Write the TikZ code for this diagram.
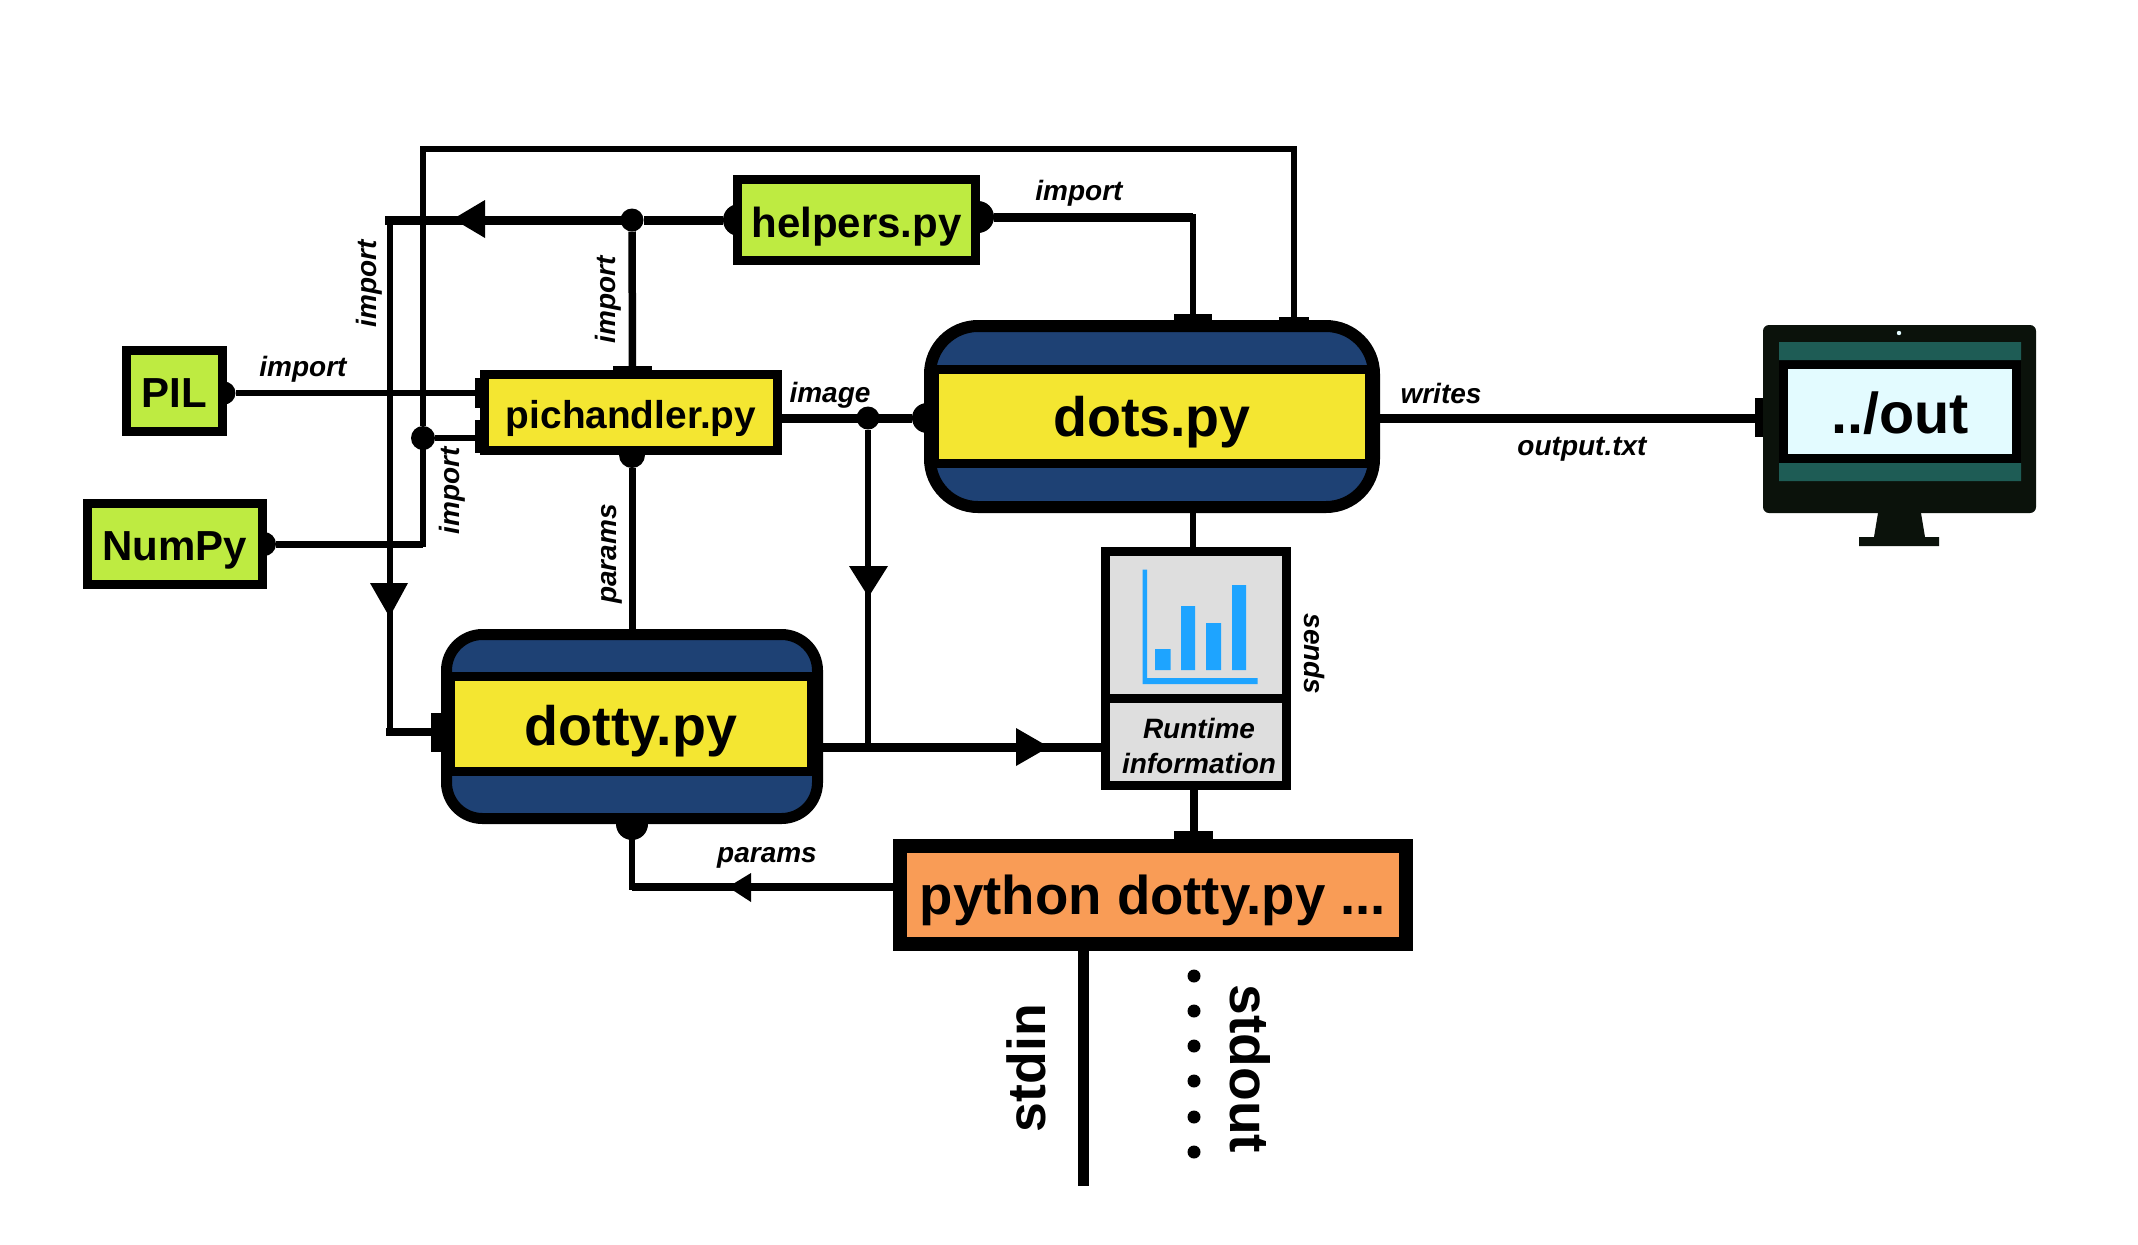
\documentclass[tikz,border=0pt]{standalone}
\usepackage{fontspec}
\setmainfont{Liberation Sans}
\pgfdeclarelayer{wires}
\pgfsetlayers{wires,main}
\definecolor{libgreen}{HTML}{BEEB41}
\definecolor{modyellow}{HTML}{F4E631}
\definecolor{modblue}{HTML}{1E4174}
\definecolor{cmdorange}{HTML}{F99C56}
\definecolor{panelgrey}{HTML}{DEDEDE}
\definecolor{barblue}{HTML}{1EA4FF}
\definecolor{monbody}{HTML}{0B120B}
\definecolor{monteal}{HTML}{1E5C55}
\definecolor{monscreen}{HTML}{E3FBFF}
\tikzset{
  boxn/.style={draw=black,inner sep=0pt,outer sep=0pt,align=center},
  tabn/.style={fill=black,inner sep=0pt,outer sep=0pt},
  edgelabel/.style={inner sep=0pt,font=\bfseries\itshape\fontsize{14}{17.5}\selectfont},
  libtext/.style={font=\bfseries\fontsize{21}{25}\selectfont},
  modtext/.style={font=\bfseries\fontsize{27.8}{32}\selectfont},
  wire/.style={draw=black,line width=#1*0.5pt,line join=miter},
  junction/.style={circle,fill=black,inner sep=0pt,outer sep=0pt,minimum size=#1*0.5pt},
}
% name, x1,y1,x2,y2 (outer edges in pixels), border width in pixels, style, text
\newcommand{\pbox}[8]{%
  \pgfmathsetmacro\pcx{(#2+#4)/2}%
  \pgfmathsetmacro\pcy{(#3+#5)/2}%
  \pgfmathsetmacro\pw{(#4-#2-#6)/2}%
  \pgfmathsetmacro\ph{(#5-#3-#6)/2}%
  \node[boxn,line width=#6*0.5pt,minimum width=\pw pt,minimum height=\ph pt,#7] (#1) at (\pcx,\pcy) {#8};%
}
\newcommand{\tabbox}[5]{%
  \pgfmathsetmacro\pcx{(#2+#4)/2}%
  \pgfmathsetmacro\pcy{(#3+#5)/2}%
  \pgfmathsetmacro\pw{(#4-#2)/2}%
  \pgfmathsetmacro\ph{(#5-#3)/2}%
  \node[tabn,minimum width=\pw pt,minimum height=\ph pt] (#1) at (\pcx,\pcy) {};%
}
\newcommand{\bl}[2]{\raisebox{-#1pt}[0pt][0pt]{#2}}
\begin{document}
\begin{tikzpicture}[x=0.5pt,y=-0.5pt]
\useasboundingbox (0,0) rectangle (2138,1244);

% library and module boxes
\pbox{helpers}{733}{175}{980}{265}{9}{fill=libgreen,libtext}{\bl{8.5}{helpers.py}}
\pbox{pil}{122}{346}{227}{436}{9}{fill=libgreen,libtext}{\bl{8}{PIL}}
\pbox{numpy}{83}{499}{267}{589}{9}{fill=libgreen,libtext}{\bl{8}{NumPy}}
\pbox{pichandler}{480}{370}{782}{455}{9}{fill=modyellow,font=\bfseries\fontsize{19.4}{23}\selectfont}{\bl{7.8}{pichandler.py}}

% dots.py
\pbox{dots}{924}{320}{1380}{513}{12}{fill=modblue,rounded corners=24pt}{}
\pbox{dotsband}{930}{365}{1374}{468}{9}{fill=modyellow,modtext}{\bl{10.2}{dots.py}}
% dotty.py
\pbox{dotty}{441}{629}{823}{824}{11}{fill=modblue,rounded corners=18pt}{}
\pbox{dottyband}{446}{672}{816}{776}{9}{fill=modyellow,modtext}{\bl{10.5}{dotty.py}}

% runtime panels
\pbox{chart}{1101}{547}{1291}{703}{9}{fill=panelgrey}{}
\pbox{info}{1101}{694}{1291}{790}{9}{fill=panelgrey}{}
\node[inner sep=0pt,align=center,font=\bfseries\itshape\fontsize{14}{17.5}\selectfont] (infotext) at (1199,746) {Runtime\\information};
\fill[barblue] (1142.5,569.5) rectangle (1147,684) (1142.5,678) rectangle (1257.5,684);
\fill[barblue] (1155,649) rectangle (1170.5,670) (1181,606) rectangle (1195,670)
  (1206,623) rectangle (1221,670) (1232,585) rectangle (1246,670);

% command box
\pbox{python}{893}{839}{1413}{951}{14}{fill=cmdorange,font=\bfseries\fontsize{27.3}{32}\selectfont}{\bl{9.5}{python dotty.py ...}}

% monitor
\pbox{monitor}{1763}{325}{2036}{513}{0}{draw=none,fill=monbody,rounded corners=3pt}{}
\fill[monbody] (1878,513) -- (1921,513) -- (1925,537) -- (1939,537) -- (1939,546) -- (1859,546) -- (1859,537) -- (1874,537) -- cycle;
\fill[monscreen] (1899,333) circle (1.1pt);
\fill[black] (1779,360) rectangle (2021,463);
\fill[monteal] (1779,342) rectangle (2021,360) (1779,463) rectangle (2021,481);
\pbox{screen}{1788}{369}{2012}{454}{0}{draw=none,fill=monscreen,font=\bfseries\fontsize{28.8}{32}\selectfont}{\bl{11.2}{../out}}

\begin{pgfonlayer}{wires}
  \fill[white] (0,0) rectangle (2138,1244);
  % ports and junctions
  \node[junction=32] (hL) at (739,220) {};
  \node[junction=32] (hR) at (978,217) {};
  \node[junction=23] (jh) at (632,220) {};
  \node[junction=23] (ppil) at (224,393) {};
  \node[junction=24] (pnum) at (264,544) {};
  \node[junction=24] (jn) at (423,438) {};
  \node[junction=26] (pb) at (632,455) {};
  \node[junction=23] (ji) at (868,418) {};
  \node[junction=30] (dl) at (927,418) {};
  \node[junction=32] (dbot) at (632,824) {};
  % tabs
  \tabbox{tabph}{613}{366}{652}{372}
  \tabbox{tabpa}{475}{378}{482}{408}
  \tabbox{tabpb}{475}{420}{482}{453}
  \tabbox{tabd1}{1174}{314}{1212}{322}
  \tabbox{tabd2}{1279}{317}{1309}{322}
  \tabbox{tabdy}{431}{713}{443}{752}
  \tabbox{tabpy}{1174}{831}{1213}{841}
  \tabbox{tabm}{1755}{398}{1765}{437}
  % corners
  \coordinate (ctl) at (389.5,220);
  \coordinate (cbl) at (389.5,732);
  \coordinate (ctopL) at (423,149);
  \coordinate (ctopR) at (1294,149);
  \coordinate (cnum) at (423,544);
  \coordinate (chr) at (1193,217);
  \coordinate (jd) at (868,747);
  \coordinate (cpar) at (632,887);
  % connectors
  \draw[wire=9] (hL) -- (jh);
  \draw[wire=9,line cap=rect] (jh) -- (ctl);
  \draw[wire=6] (ctl) -- (cbl);
  \draw[wire=8,line cap=rect] (cbl) -- (tabdy.west |- cbl);
  \draw[wire=7.5] (jh) -- (tabph);
  \draw[wire=6] (ppil) -- (tabpa.west |- ppil);
  \draw[wire=7] (pnum) -- (cnum);
  \draw[wire=6,line cap=rect] (cnum) -- (jn);
  \draw[wire=6] (jn) -- (tabpb.west |- jn);
  \draw[wire=6.5] (jn) -- (ctopL) -- (ctopR) -- (tabd2.north -| ctopR);
  \draw[wire=9] (hR) -- (chr);
  \draw[wire=6,line cap=rect] (chr) -- (tabd1.north -| chr);
  \draw[wire=7] (pb) -- (dotty.north -| pb);
  \draw[wire=9] (ji -| pichandler.east) -- (dl);
  \draw[wire=6] (ji) -- (jd);
  \draw[wire=9] (jd -| dotty.east) -- (jd -| info.west);
  \draw[wire=6] (dots.south -| chr) -- (chart.north -| chr);
  \draw[wire=8] (info.south -| tabpy) -- (tabpy);
  \draw[wire=8] (python.west |- cpar) -- (cpar);
  \draw[wire=6,line cap=rect] (cpar) -- (dbot);
  \draw[wire=9] (dots.east |- ji) -- (tabm.west |- ji);
  \coordinate (stdinend) at (1083,1186);
  \draw[wire=11] (python.south -| stdinend) -- (stdinend);
\end{pgfonlayer}

% arrowheads
\fill (453,219) -- (485,200) -- (485,238) -- cycle;
\fill (370,583) -- (408,583) -- (389.5,617) -- cycle;
\fill (849,566) -- (888,566) -- (868.5,597) -- cycle;
\fill (1016,728) -- (1049,747) -- (1016,766) -- cycle;
\fill (728,887) -- (751,873) -- (751,902) -- cycle;

% stdout dots
\foreach \py/\pn in {976/a,1011/b,1046/c,1081/d,1117/e,1152/f}
  \node[junction=13] (out\pn) at (1194,\py) {};

% labels
\node[edgelabel] (limp1) at (303,369) {import};
\node[edgelabel,rotate=90] (limp2) at (369,284) {import};
\node[edgelabel,rotate=90] (limp3) at (608,300) {import};
\node[edgelabel,rotate=90] (limp4) at (452,491) {import};
\node[edgelabel] (limp5) at (1079,193) {import};
\node[edgelabel] (limage) at (830,395) {image};
\node[edgelabel,rotate=90] (lpar1) at (612,554) {params};
\node[edgelabel] (lpar2) at (767,858) {params};
\node[edgelabel] (lwrites) at (1441,393) {writes};
\node[edgelabel] (loutput) at (1582,449) {output.txt};
\node[edgelabel,rotate=-90] (lsends) at (1314,654) {sends};
\node[font=\bfseries\fontsize{26.8}{32}\selectfont,inner sep=0pt,rotate=90] (lstdin) at (1026,1068) {stdin};
\node[font=\bfseries\fontsize{27.6}{32}\selectfont,inner sep=0pt,rotate=-90] (lstdout) at (1250,1069) {stdout};
\end{tikzpicture}
\end{document}
